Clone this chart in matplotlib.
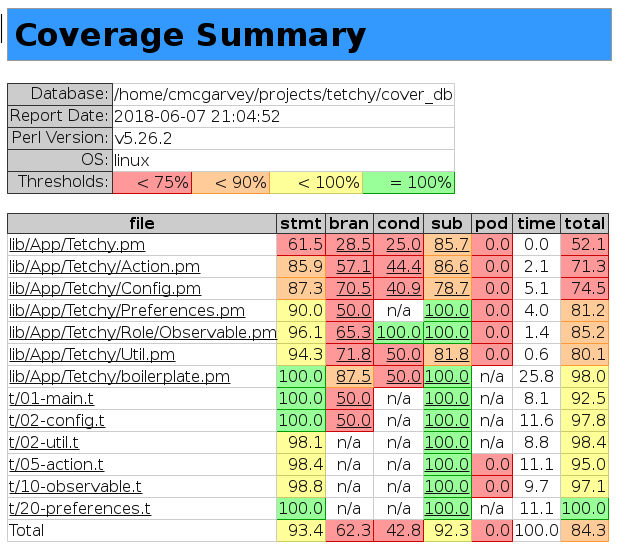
import matplotlib
matplotlib.use('Agg')
import matplotlib.pyplot as plt
from matplotlib.patches import Rectangle

# whole pixel glyph advances, like the browser text in the reference
plt.rcParams['text.hinting'] = 'native'
plt.rcParams['text.hinting_factor'] = 1

###### DATA
info_labels = ['Database:', 'Report Date:', 'Perl Version:', 'OS:', 'Thresholds:']
info_values = ['/home/cmcgarvey/projects/tetchy/cover_db', '2018-06-07 21:04:52', 'v5.26.2', 'linux']
threshold_labels = ['< 75%', '< 90%', '< 100%', '= 100%']

columns = ['file', 'stmt', 'bran', 'cond', 'sub', 'pod', 'time', 'total']
files = ['lib/App/Tetchy.pm', 'lib/App/Tetchy/Action.pm', 'lib/App/Tetchy/Config.pm',
         'lib/App/Tetchy/Preferences.pm', 'lib/App/Tetchy/Role/Observable.pm', 'lib/App/Tetchy/Util.pm',
         'lib/App/Tetchy/boilerplate.pm', 't/01-main.t', 't/02-config.t', 't/02-util.t',
         't/05-action.t', 't/10-observable.t', 't/20-preferences.t', 'Total']
stmt = ['61.5', '85.9', '87.3', '90.0', '96.1', '94.3', '100.0', '100.0', '100.0', '98.1', '98.4', '98.8', '100.0', '93.4']
bran = ['28.5', '57.1', '70.5', '50.0', '65.3', '71.8', '87.5', '50.0', '50.0', 'n/a', 'n/a', 'n/a', 'n/a', '62.3']
cond = ['25.0', '44.4', '40.9', 'n/a', '100.0', '50.0', '50.0', 'n/a', 'n/a', 'n/a', 'n/a', 'n/a', 'n/a', '42.8']
sub = ['85.7', '86.6', '78.7', '100.0', '100.0', '81.8', '100.0', '100.0', '100.0', '100.0', '100.0', '100.0', '100.0', '92.3']
pod = ['0.0', '0.0', '0.0', '0.0', '0.0', '0.0', 'n/a', 'n/a', 'n/a', 'n/a', '0.0', '0.0', 'n/a', '0.0']
time_col = ['0.0', '2.1', '5.1', '4.0', '1.4', '0.6', '25.8', '8.1', '11.6', '8.8', '11.1', '9.7', '11.1', '100.0']
total = ['52.1', '71.3', '74.5', '81.2', '85.2', '80.1', '98.0', '92.5', '97.8', '98.4', '95.0', '97.1', '100.0', '84.3']

###### STYLE
FILL = ['#ff9999', '#ffcc99', '#ffff99', '#99ff99']
EDGE = ['#cc0000', '#ff9933', '#cccc66', '#009900']
GRID = '#cccccc'
DARK = '#333333'
TEXT = '#111111'
FS = 16 * 72 / 100


###### FUNCTIONS
def level(value):
    """Threshold class of a percentage string, None for n/a."""
    if value == 'n/a':
        return None
    v = float(value)
    if v < 75:
        return 0
    if v < 90:
        return 1
    if v < 100:
        return 2
    return 3


def box(ax, x0, y0, x1, y1, fill, edge):
    # offsets put the snapped 1px edge on the wanted pixel row and column
    ax.add_patch(Rectangle((x0 + 0.2, y0 - 0.3), x1 - x0, y1 - y0, facecolor=fill, edgecolor=edge, linewidth=0.72))


def underlined(ax, x, y, s, ha):
    t = ax.text(x, y, s, ha=ha, va='baseline', fontsize=FS, color=TEXT)
    bb = t.get_window_extent(renderer=ax.figure.canvas.get_renderer())
    ax.plot([bb.x0, bb.x1], [y + 0.7, y + 0.7], color='#111111', lw=0.72, solid_capstyle='butt')


###### DRIVER CODE
fig = plt.figure(figsize=(6.17, 5.5), dpi=100)
ax = fig.add_axes([0, 0, 1, 1])
ax.set_xlim(0, 617)
ax.set_ylim(550, 0)
ax.axis('off')

# title bar
box(ax, 7, 8, 611, 60, '#3399ff', '#999999')
ax.text(14, 46, 'Coverage Summary', fontsize=23, fontweight='bold', color='black', va='baseline')
ax.plot([0.5, 0.5], [14, 42], color='black', lw=0.8)

# info table, right and lower cells drawn first so upper left edges win
info_x = [7, 112, 454]
info_y = [83 + 22 * i for i in range(6)]
thresh_x = [112, 191, 269, 362, 454]
for i in reversed(range(len(threshold_labels))):
    box(ax, thresh_x[i], info_y[4], thresh_x[i + 1], info_y[5], FILL[i], EDGE[i])
    ax.text(thresh_x[i + 1] - 2, info_y[4] + 17, threshold_labels[i], ha='right', va='baseline', fontsize=FS, color=TEXT)
for i, value in reversed(list(enumerate(info_values))):
    box(ax, info_x[1], info_y[i], info_x[2], info_y[i + 1], 'white', GRID)
    ax.text(info_x[1] + 2, info_y[i] + 17, value, va='baseline', fontsize=FS, color=TEXT)
for i, label in reversed(list(enumerate(info_labels))):
    box(ax, info_x[0], info_y[i], info_x[1], info_y[i + 1], GRID, DARK)
    ax.text(info_x[1] - 3, info_y[i] + 16, label, ha='right', va='baseline', fontsize=FS, color=TEXT)

# coverage table
col_x = [7, 276, 325, 373, 423, 471, 512, 560, 608]
row_y = [233 + 22 * i for i in range(15)]
table_cols = [stmt, bran, cond, sub, pod, time_col, total]
linked = ['bran', 'cond', 'sub']

for i in reversed(range(len(files))):
    for j in reversed(range(len(table_cols))):
        values = table_cols[j]
        x0, x1 = col_x[j + 1], col_x[j + 2]
        if values is time_col or values[i] == 'n/a':
            box(ax, x0, row_y[i], x1, row_y[i + 1], 'white', GRID)
        else:
            lv = level(values[i])
            box(ax, x0, row_y[i], x1, row_y[i + 1], FILL[lv], EDGE[lv])
    box(ax, col_x[0], row_y[i], col_x[1], row_y[i + 1], 'white', GRID)

for j in reversed(range(len(columns))):
    box(ax, col_x[j], 213, col_x[j + 1], 233, GRID, DARK)
    ax.text((col_x[j] + col_x[j + 1]) / 2 + 0.5, 229, columns[j], ha='center', va='baseline', fontsize=FS, fontweight='bold', color='black')

for i, f in enumerate(files):
    y = row_y[i] + 17
    if f == 'Total':
        ax.text(col_x[0] + 2, y, f, va='baseline', fontsize=FS, color=TEXT)
    else:
        underlined(ax, col_x[0] + 2, y, f, 'left')
    for j, values in enumerate(table_cols):
        x0, x1 = col_x[j + 1], col_x[j + 2]
        s = values[i]
        if values is time_col or s == 'n/a':
            ax.text((x0 + x1) / 2 + 0.5, y, s, ha='center', va='baseline', fontsize=FS, color=TEXT)
        elif columns[j + 1] in linked and f != 'Total':
            underlined(ax, x1 - 2, y, s, 'right')
        else:
            ax.text(x1 - 2, y, s, ha='right', va='baseline', fontsize=FS, color=TEXT)

fig.savefig('out.png', dpi=100)
